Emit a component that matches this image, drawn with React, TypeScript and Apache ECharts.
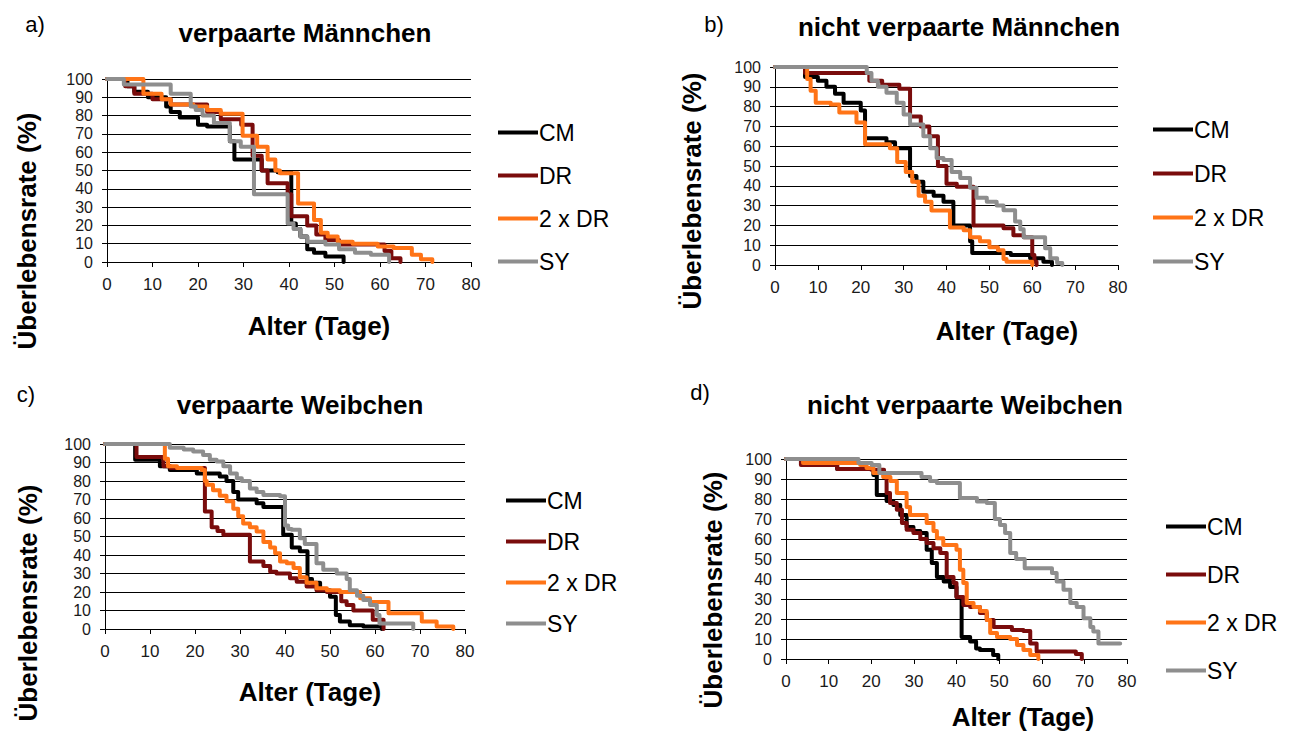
import React, { useEffect, useRef } from "react";
import * as echarts from "echarts";

const groups = ["CM", "DR", "2 x DR", "SY"];
const groupColors = ["#000000", "#7a0c0c", "#ff7417", "#8e8e8e"];
const panelLetters = ["a)", "b)", "c)", "d)"];
const panelTitles = [
  "verpaarte Männchen",
  "nicht verpaarte Männchen",
  "verpaarte Weibchen",
  "nicht verpaarte Weibchen",
];
const xAxisName = "Alter (Tage)";
const yAxisName = "Überlebensrate (%)";

// a) verpaarte Männchen  [Tag, Überlebensrate]
const aCM = [[0,100],[4.5,96],[6,93],[9,90],[13,85],[14,82],[16,79],[20,75],[22,74],[27,66],[28,56],[34,50],[37.5,49],[40.5,21],[41.5,18],[42.5,14],[44,7],[45.5,5],[48,3],[52,0]];
const aDR = [[0,100],[4,96],[6,92],[10,89],[14,86],[22,82],[25,78],[29.5,75],[32,58],[34,50],[35.3,43],[39.7,37],[40.5,25],[44,20],[46,15],[48,12],[51,9.5],[61,6],[62.5,2],[64.5,0]];
const a2DR = [[0,100],[8,92],[12,89],[14,86],[19,85],[22,83],[25,81],[29.8,69],[33,63],[35.3,56],[37,50],[38,48.5],[42,32],[45.5,23],[47,16],[48.5,14],[50.7,11],[54,10],[59.5,8.5],[63,7.7],[67,4],[69,1.5],[71.5,0]];
const aSY = [[0,100],[3.7,97],[14,92],[18.4,85],[19.5,83],[21,80],[23.5,76],[27,66],[29.4,63],[32.3,37],[39.7,21],[41,18],[42.5,14],[44,11],[48,9.5],[51,7],[54.5,5],[58,4],[62,0]];

// b) nicht verpaarte Männchen
const bCM = [[0,100],[7,95],[10,93],[12,90],[14,86.5],[16,82],[20,78],[21,64],[26,62],[28,59],[31.5,45],[33,42],[34.6,37],[37,35],[39.3,32],[41.6,20],[45.5,12],[46,6],[55,5],[59.5,3.4],[62.6,1.7],[64.6,0]];
const bDR = [[0,100],[7,97],[22,93],[25,91],[29,89],[31.5,75],[34,70],[36,65],[38,50],[40,41],[42.4,39.5],[46.3,20],[53.3,18.5],[55.6,15],[58,14],[60,5],[60.5,1.7],[61,0]];
const b2DR = [[0,100],[7.5,94],[8.3,88],[9.5,82],[13,81],[15,77],[19,72],[21,61],[26.8,59],[28.5,52],[30.5,47],[32,42],[33.5,35],[35,32],[36.5,27.5],[40.8,19],[44,17.5],[45.5,14],[47.8,12],[50,9],[52,7.5],[53.3,3],[54,1.7],[60,0]];
const bSY = [[0,100],[21.4,97],[22.5,93],[24,90],[26,87],[28.4,82],[30,76],[31.5,71],[34.6,65],[36.2,59],[37.7,54],[39.3,53],[41.2,47],[43.2,44],[45.5,39],[47,34],[49.4,32],[51.7,30],[53.3,27.7],[56,22],[57.2,18],[58,14],[63,8.4],[64.2,3.4],[65.8,1],[67,0]];

// c) verpaarte Weibchen
const cCM = [[0,100],[6.7,91.5],[12.2,88],[14.4,86],[20.4,84],[25.5,82.5],[27,80],[28.5,74],[29.6,70],[33.7,68],[35.2,66],[39.6,51],[41.5,44],[43.3,42],[45,27],[46,25],[47.8,21],[50,17.5],[51.3,7.6],[52.2,4],[54.4,2],[57.4,1.3],[61.5,0]];
const cDR = [[0,100],[7,93],[13,88],[14.5,87],[22.2,63.5],[23.7,55],[25,53],[26.3,51],[32.2,36.5],[35.2,34],[36.7,31],[38.1,30],[41.1,27.5],[42.6,25.6],[44.8,23],[47,21],[49.3,20],[52.5,15],[53.7,13],[55.2,10],[59.5,5],[61.9,0]];
const c2DR = [[0,100],[13.3,92],[14,88],[16,87],[21.5,86],[22.2,80],[22.6,78],[24,75],[25.5,72],[27,69],[28.5,65],[29.6,61],[30.7,57],[32.2,55],[33.7,52.7],[35.2,47],[36.7,44],[37.8,41],[38.9,36.5],[40.4,35.6],[41.9,33],[43.3,28],[44.8,25],[47,22],[49.3,21],[52.2,20],[56.7,16.6],[58.9,14.6],[63,8.5],[70.4,4],[73.7,1.3],[77.4,0]];
const cSY = [[0,100],[14.4,98],[17.5,97],[19.6,96],[21.8,94],[23.3,91.5],[24.8,90.6],[26.3,88],[27.8,84],[29.3,81.5],[30.4,80],[32.2,76],[33.7,74],[35.2,72.5],[38.9,71.7],[40,56],[40.7,54],[41.5,53.6],[43.3,49],[44.4,46],[47,35.6],[48.5,32],[51.5,30],[53.7,27],[54.4,21],[56,18],[57.4,15.7],[58.9,13],[60.4,7.6],[61,3],[68.5,0]];

// d) nicht verpaarte Weibchen
const dCM = [[0,100],[4,97],[12,95],[20.5,92],[21.3,82],[23.6,79],[25.2,77],[26.8,72],[28.3,66],[29.9,64],[31.5,63],[33,54.6],[34.2,48],[35.4,41],[37,38.7],[38.5,36],[40,31],[41.2,11],[43.2,8.7],[44.6,5.3],[45.5,4.5],[48.6,2],[49.8,0]];
const dDR = [[0,100],[3.5,97],[12,95],[20,94.6],[23,91],[23.6,83],[24.4,78],[26,74.6],[27.2,68],[28.3,64.6],[29.9,63],[31.5,60],[33,58],[34.6,55.4],[36.2,53],[37.7,41],[39.3,38],[40,31],[41.6,27],[43.2,26],[45.5,23],[47.1,19.5],[48.7,16],[53,14.5],[55.7,14],[57.3,7.8],[58.8,3.7],[68,2.5],[69.4,0]];
const d2DR = [[0,100],[4,98],[17.4,97],[18.9,95.5],[20.5,93],[22.8,91],[24.5,89],[26,83],[28.3,76],[29.1,72],[33,68],[34.6,64],[35.4,60.4],[36.9,57],[40,54.6],[40.8,44.6],[41.6,38],[42.4,28],[44,26],[45.5,24],[47.1,19.5],[47.9,13],[49.5,11],[52.6,10],[54.2,7],[55.7,4.5],[57.3,2],[59.2,0]];
const dSY = [[0,100],[17,98],[20.1,97],[21.9,93],[31.8,91],[33.8,89],[35.4,88],[40.8,80.5],[44.8,78.8],[47.1,78],[49,70],[50.2,67],[51.4,63],[52.6,53],[54,50],[56,45.4],[62.4,43],[63.5,38.7],[65.1,34.6],[66.7,28],[68.2,26],[69.8,20.4],[71.4,16],[72.1,13.7],[73.3,7.8],[78.4,7.8]];

const panelData = [
  [aCM, aDR, a2DR, aSY],
  [bCM, bDR, b2DR, bSY],
  [cCM, cDR, c2DR, cSY],
  [dCM, dDR, d2DR, dSY],
];

const FONT = "'Liberation Sans', Arial, Helvetica, sans-serif";

// layout per panel
const grids = [
  { left: 107, top: 79, width: 364, height: 183 },
  { left: 775, top: 67, width: 343, height: 198 },
  { left: 105, top: 444, width: 360, height: 185 },
  { left: 786, top: 459, width: 341, height: 200 },
];
const legends = [
  { left: 498, top: 121, gap: 20 },
  { left: 1153, top: 118, gap: 21 },
  { left: 506, top: 489, gap: 18 },
  { left: 1166, top: 515, gap: 25 },
];
const letterPos = [[35, 24], [714, 24], [26, 394], [700, 392]];
const titlePos = [[305, 33], [959, 27], [300, 405], [965, 405]];
const xNamePos = [[319, 326], [1007, 331], [310, 692], [1023, 717]];
const yNamePos = [[27, 231], [692, 191], [28, 603], [713, 590]];

export default function App() {
  const ref = useRef<HTMLDivElement>(null);
  useEffect(() => {
    document.body.style.margin = "0";
    if (!ref.current) return;
    const chart = echarts.init(ref.current, null, { renderer: "svg" });

    const xAxis = grids.map((_, i) => ({
      type: "value",
      gridIndex: i,
      min: 0,
      max: 80,
      interval: 10,
      splitLine: { show: false },
      axisLine: { show: true, onZero: false, lineStyle: { color: "#000", width: 1 } },
      axisTick: { show: true, length: 5, lineStyle: { color: "#000" } },
      axisLabel: { margin: 14, fontSize: 17, lineHeight: 17, color: "#1a1a1a", fontFamily: FONT, showMinLabel: true, showMaxLabel: true },
    }));
    const yAxis = grids.map((_, i) => ({
      type: "value",
      gridIndex: i,
      min: 0,
      max: 100,
      interval: 10,
      splitLine: { show: true, lineStyle: { color: "#000", width: 1 } },
      axisLine: { show: true, lineStyle: { color: "#000", width: 1 } },
      axisTick: { show: true, length: 5, lineStyle: { color: "#000" } },
      axisLabel: { margin: 14, fontSize: 16, lineHeight: 16, color: "#1a1a1a", fontFamily: FONT, showMinLabel: true, showMaxLabel: true },
    }));

    const series: any[] = [];
    panelData.forEach((panel, pi) => {
      panel.forEach((data, gi) => {
        series.push({
          type: "line",
          name: groups[gi],
          xAxisIndex: pi,
          yAxisIndex: pi,
          data,
          step: "end",
          showSymbol: false,
          symbol: "none",
          color: groupColors[gi],
          lineStyle: { width: 4, color: groupColors[gi], join: "round", cap: "round" },
          z: 2 + gi,
        });
      });
    });

    const legend = legends.map((l) => ({
      data: groups,
      orient: "vertical",
      left: l.left,
      top: l.top,
      padding: 0,
      itemGap: l.gap,
      itemWidth: 40,
      itemHeight: 4,
      icon: "rect",
      selectedMode: false,
      textStyle: { fontSize: 23, lineHeight: 23, color: "#000", fontFamily: FONT, padding: [0, 0, 0, -4] },
    }));

    const graphic: any[] = [];
    for (let i = 0; i < 4; i++) {
      graphic.push({
        type: "text", x: letterPos[i][0], y: letterPos[i][1],
        style: { text: panelLetters[i], fill: "#000", font: `22px ${FONT}`, align: "center", verticalAlign: "middle" },
      });
      graphic.push({
        type: "text", x: titlePos[i][0], y: titlePos[i][1],
        style: { text: panelTitles[i], fill: "#000", font: `bold 26px ${FONT}`, align: "center", verticalAlign: "middle" },
      });
      graphic.push({
        type: "text", x: xNamePos[i][0], y: xNamePos[i][1],
        style: { text: xAxisName, fill: "#000", font: `bold 26px ${FONT}`, align: "center", verticalAlign: "middle" },
      });
      graphic.push({
        type: "text", x: yNamePos[i][0], y: yNamePos[i][1], rotation: Math.PI / 2,
        style: { text: yAxisName, fill: "#000", font: `bold 26px ${FONT}`, align: "center", verticalAlign: "middle" },
      });
    }

    chart.setOption({
      animation: false,
      backgroundColor: "#ffffff",
      grid: grids.map((g) => ({ ...g, containLabel: false })),
      xAxis,
      yAxis,
      legend,
      series,
      graphic,
    });
    return () => chart.dispose();
  }, []);
  return (
    <div
      ref={ref}
      style={{ position: "fixed", left: 0, top: 0, width: 1303, height: 731, background: "#fff" }}
    />
  );
}
